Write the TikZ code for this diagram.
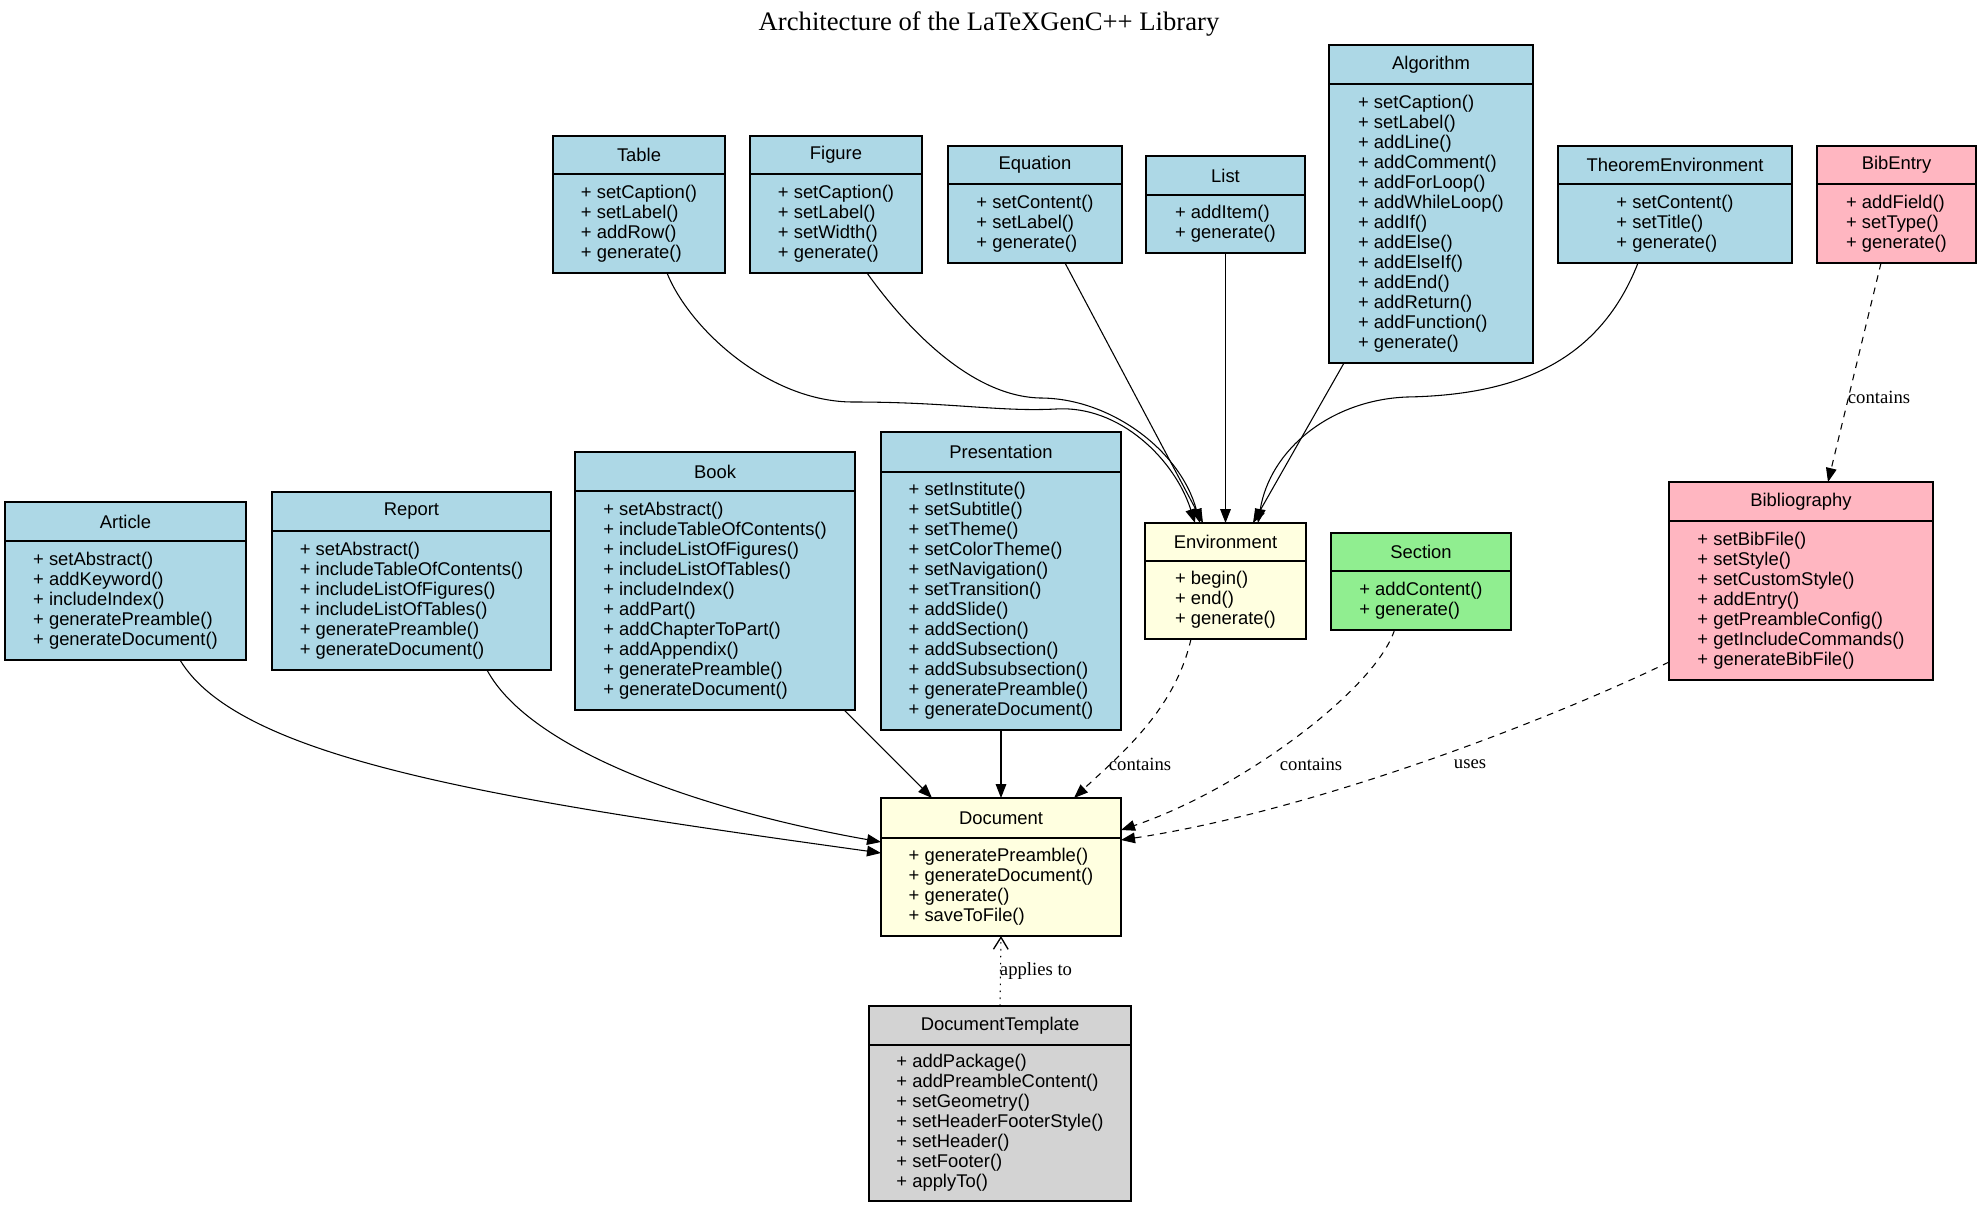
\documentclass[tikz,border=0pt]{standalone}
\usepackage{fontspec}
\setmainfont{Liberation Serif}
\newfontfamily\boxfont{Liberation Sans}
\usetikzlibrary{arrows.meta,calc,fit}

\definecolor{clsblue}{HTML}{ADD8E6}
\definecolor{clsyellow}{HTML}{FFFFE0}
\definecolor{clsgreen}{HTML}{90EE90}
\definecolor{clspink}{HTML}{FFB6C1}
\definecolor{clsgray}{HTML}{D3D3D3}

\tikzset{
  classbox/.style={draw=black, line width=0.8pt, inner sep=0pt, outer sep=0pt},
  divider/.style={draw=black, line width=0.8pt},
  headtext/.style={font=\boxfont\fontsize{13.8}{15}\selectfont, inner sep=0pt},
  bodytext/.style={font=\boxfont\fontsize{13.8}{15}\selectfont, align=left, inner sep=0pt},
  assoc/.style={draw=black, line width=0.8pt, -{Triangle[length=10.5pt,width=8pt]}},
  depend/.style={assoc, dash pattern=on 5pt off 4.5pt},
  applies/.style={draw=black, line width=0.8pt, dash pattern=on 1.2pt off 4pt,
    -{Straight Barb[length=9pt,width=11pt,line width=1pt]}},
  elabel/.style={font=\fontsize{14}{16}\selectfont, inner sep=0pt},
}

% id, x1, x2, top, divider, bottom, fill, name, operations
\newcommand\umlclass[9]{%
  \node[classbox, fill=#7, fit={(#2,#4) (#3,#6)}] (#1) {};
  \draw[divider] (#2,#5) -- (#3,#5);
  \node[headtext] (#1-name) at ({(#2+#3)/2},{(#4+#5)/2}) {#8};
  \node[bodytext] (#1-ops) at ({(#2+#3)/2},{(#5+#6)/2}) {#9};
}

\begin{document}
\begin{tikzpicture}[x=0.75pt, y=-0.75pt]
\useasboundingbox (0,0) rectangle (1981,1209);

\node[font=\fontsize{20}{24}\selectfont] (title) at (989,24)
  {Architecture of the LaTeXGenC++ Library};

% environment-like classes (top row)
\umlclass{table}{553}{725}{136}{174}{273}{clsblue}{Table}
  {+ setCaption()\\+ setLabel()\\+ addRow()\\+ generate()}
\umlclass{figure}{750}{922}{136}{174}{273}{clsblue}{Figure}
  {+ setCaption()\\+ setLabel()\\+ setWidth()\\+ generate()}
\umlclass{equation}{948}{1122}{146}{184}{263}{clsblue}{Equation}
  {+ setContent()\\+ setLabel()\\+ generate()}
\umlclass{list}{1146}{1305}{156}{195}{253}{clsblue}{List}
  {+ addItem()\\+ generate()}
\umlclass{algorithm}{1329}{1533}{45}{84}{363}{clsblue}{Algorithm}
  {+ setCaption()\\+ setLabel()\\+ addLine()\\+ addComment()\\+ addForLoop()\\+ addWhileLoop()\\+ addIf()\\+ addElse()\\+ addElseIf()\\+ addEnd()\\+ addReturn()\\+ addFunction()\\+ generate()}
\umlclass{theorem}{1558}{1792}{146}{184}{263}{clsblue}{TheoremEnvironment}
  {+ setContent()\\+ setTitle()\\+ generate()}
\umlclass{bibentry}{1817}{1976}{146}{184}{263}{clspink}{BibEntry}
  {+ addField()\\+ setType()\\+ generate()}

% document classes (middle row)
\umlclass{article}{5}{246}{502}{541}{660}{clsblue}{Article}
  {+ setAbstract()\\+ addKeyword()\\+ includeIndex()\\+ generatePreamble()\\+ generateDocument()}
\umlclass{report}{272}{551}{492}{531}{670}{clsblue}{Report}
  {+ setAbstract()\\+ includeTableOfContents()\\+ includeListOfFigures()\\+ includeListOfTables()\\+ generatePreamble()\\+ generateDocument()}
\umlclass{book}{575}{855}{452}{491}{710}{clsblue}{Book}
  {+ setAbstract()\\+ includeTableOfContents()\\+ includeListOfFigures()\\+ includeListOfTables()\\+ includeIndex()\\+ addPart()\\+ addChapterToPart()\\+ addAppendix()\\+ generatePreamble()\\+ generateDocument()}
\umlclass{presentation}{881}{1121}{432}{472}{730}{clsblue}{Presentation}
  {+ setInstitute()\\+ setSubtitle()\\+ setTheme()\\+ setColorTheme()\\+ setNavigation()\\+ setTransition()\\+ addSlide()\\+ addSection()\\+ addSubsection()\\+ addSubsubsection()\\+ generatePreamble()\\+ generateDocument()}
\umlclass{environment}{1145}{1306}{523}{561}{639}{clsyellow}{Environment}
  {+ begin()\\+ end()\\+ generate()}
\umlclass{section}{1331}{1511}{533}{571}{630}{clsgreen}{Section}
  {+ addContent()\\+ generate()}
\umlclass{bibliography}{1669}{1933}{482}{521}{680}{clspink}{Bibliography}
  {+ setBibFile()\\+ setStyle()\\+ setCustomStyle()\\+ addEntry()\\+ getPreambleConfig()\\+ getIncludeCommands()\\+ generateBibFile()}

% core
\umlclass{document}{881}{1121}{798}{838}{936}{clsyellow}{Document}
  {+ generatePreamble()\\+ generateDocument()\\+ generate()\\+ saveToFile()}
\umlclass{template}{869}{1131}{1006}{1045}{1201}{clsgray}{DocumentTemplate}
  {+ addPackage()\\+ addPreambleContent()\\+ setGeometry()\\+ setHeaderFooterStyle()\\+ setHeader()\\+ setFooter()\\+ applyTo()}

% environments derive from Environment
\draw[assoc] ($(table.south)+(28,0)$) .. controls (690,330) and (770,402) .. (853,402)
  .. controls (950,402) and (1000,412) .. (1056,409)
  .. controls (1120,405) and (1175,460) .. ($(environment.north)+(-30.5,0)$);
\draw[assoc] ($(figure.south)+(31,0)$) .. controls (890,305) and (960,396) .. (1040,398)
  .. controls (1110,398) and (1180,450) .. ($(environment.north)+(-25.5,0)$);
\draw[assoc] ($(equation.south)+(30,0)$) -- ($(environment.north)+(-22.5,0)$);
\draw[assoc] (list.south) -- (environment.north);
\draw[assoc] ($(algorithm.south)+(-87,0)$) -- ($(environment.north)+(27.5,0)$);
\draw[assoc] ($(theorem.south)+(-37,0)$) .. controls (1600,360) and (1520,395) .. (1407,397)
  .. controls (1330,400) and (1270,450) .. ($(environment.north)+(32.5,0)$);

% document types derive from Document
\draw[assoc] ($(article.south)+(54.5,0)$) .. controls (240,760) and (500,800)
  .. ($(document.north west)+(0,55)$);
\draw[assoc] ($(report.south)+(75.5,0)$) .. controls (530,750) and (700,810)
  .. ($(document.north west)+(0,44)$);
\draw[assoc] ($(book.south)+(129,0)$) -- ($(document.north)+(-69,0)$);
\draw[assoc] (presentation.south) -- (document.north);

% dependencies
\draw[depend] ($(environment.south)+(-34.5,0)$) .. controls (1175,710) and (1120,755)
  .. ($(document.north)+(73,0)$) node[elabel, at={(1140,764)}] {contains};
\draw[depend] ($(section.south)+(-26.5,0)$) .. controls (1375,690) and (1240,790)
  .. ($(document.north east)+(0,32)$) node[elabel, at={(1311,764)}] {contains};
\draw[depend] ($(bibliography.south west)+(0,-18)$) .. controls (1560,715) and (1320,810)
  .. ($(document.north east)+(0,42)$) node[elabel, at={(1470,764)}] {uses};
\draw[depend] ($(bibentry.south)+(-15.5,0)$) -- ($(bibliography.north)+(27,0)$)
  node[elabel, at={(1879,397)}] {contains};
\draw[applies] (template.north) -- (document.south)
  node[elabel, at={(1036,971)}] {applies to};
\end{tikzpicture}
\end{document}
